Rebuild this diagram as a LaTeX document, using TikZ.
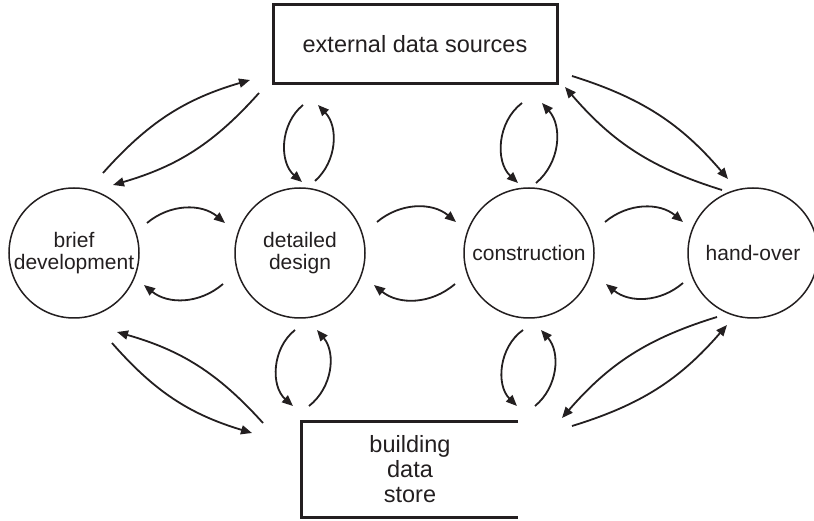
\documentclass[tikz,border=0pt]{standalone}
\usepackage{fontspec}
\setmainfont{Liberation Sans}
\usetikzlibrary{arrows.meta,calc}
\definecolor{ink}{RGB}{35,31,32}
\tikzset{
  phase/.style={circle, draw=ink, line width=1.5pt, minimum size=130pt, inner sep=0pt, align=center, text=ink, font=\fontsize{21}{22.5}\selectfont},
  boxnode/.style={rectangle, inner sep=0pt, align=center, text=ink, font=\fontsize{23.5}{25}\selectfont},
  boxline/.style={draw=ink, line width=3pt},
  flow/.style={draw=ink, line width=1.8pt, -{Triangle[length=11pt,width=9pt]}}
}
\begin{document}
\begin{tikzpicture}[x=1pt,y=1pt]
\useasboundingbox (0,0) rectangle (814,-521);
% nodes
\node[phase] (brief) at (74,-253) {brief\\development};
\node[phase] (detailed) at (300,-253) {detailed\\design};
\node[phase] (constr) at (529,-253) {construction};
\node[phase] (hand) at (753,-253) {hand-over};
\node[boxnode, boxline, minimum width=284pt, minimum height=79pt] (ext) at (415,-44.5) {external data sources};
\node[boxnode, minimum width=216pt, minimum height=95pt] (store) at (410,-469.5) {building\\data\\store};
\draw[boxline] (store.north east) -- (store.north west) -- (store.south west) -- (store.south east);
% brief <-> external
\draw[flow] ([shift={(29,80)}]brief.center) to[bend left=16] ([shift={(-165,-35.5)}]ext.center);
\draw[flow] ([shift={(-156,-48.5)}]ext.center) to[bend left=16] ([shift={(39,68)}]brief.center);
% brief <-> detailed
\draw[flow] ([shift={(73,30)}]brief.center) to[bend left=40] ([shift={(-75,30)}]detailed.center);
\draw[flow] ([shift={(-77,-31)}]detailed.center) to[bend left=40] ([shift={(70,-32)}]brief.center);
% detailed <-> construction
\draw[flow] ([shift={(77,31)}]detailed.center) to[bend left=40] ([shift={(-73,31)}]constr.center);
\draw[flow] ([shift={(-74,-31)}]constr.center) to[bend left=40] ([shift={(74,-32)}]detailed.center);
% construction <-> hand-over
\draw[flow] ([shift={(76,31)}]constr.center) to[bend left=40] ([shift={(-70,31)}]hand.center);
\draw[flow] ([shift={(-70,-30)}]hand.center) to[bend left=40] ([shift={(77,-31)}]constr.center);
% external <-> detailed
\draw[flow] ([shift={(-112,-60.5)}]ext.center) to[bend right=50] ([shift={(2,71)}]detailed.center);
\draw[flow] ([shift={(15,72)}]detailed.center) to[bend right=46] ([shift={(-97,-60.5)}]ext.center);
% external <-> construction
\draw[flow] ([shift={(107,-58.5)}]ext.center) to[bend right=50] ([shift={(-11,70)}]constr.center);
\draw[flow] ([shift={(7,70)}]constr.center) to[bend right=46] ([shift={(127,-58.5)}]ext.center);
% detailed <-> store
\draw[flow] ([shift={(-5,-77)}]detailed.center) to[bend right=50] ([shift={(-117,63.5)}]store.center);
\draw[flow] ([shift={(-101,63.5)}]store.center) to[bend right=46] ([shift={(17,-77)}]detailed.center);
% construction <-> store
\draw[flow] ([shift={(-6,-77)}]constr.center) to[bend right=50] ([shift={(107,63.5)}]store.center);
\draw[flow] ([shift={(125,63.5)}]store.center) to[bend right=46] ([shift={(12,-77)}]constr.center);
% brief <-> store
\draw[flow] ([shift={(-147,46.5)}]store.center) to[bend right=16] ([shift={(43,-79)}]brief.center);
\draw[flow] ([shift={(38,-90)}]brief.center) to[bend right=16] ([shift={(-158,36.5)}]store.center);
% hand-over <-> store
\draw[flow] ([shift={(-36,-64)}]hand.center) to[bend right=16] ([shift={(152,51.5)}]store.center);
\draw[flow] ([shift={(162,43.5)}]store.center) to[bend right=16] ([shift={(-26,-72)}]hand.center);
% external <-> hand-over
\draw[flow] ([shift={(157,-31.5)}]ext.center) to[bend left=16] ([shift={(-25,74)}]hand.center);
\draw[flow] ([shift={(-31,63)}]hand.center) to[bend left=16] ([shift={(150,-42.5)}]ext.center);
\end{tikzpicture}
\end{document}
